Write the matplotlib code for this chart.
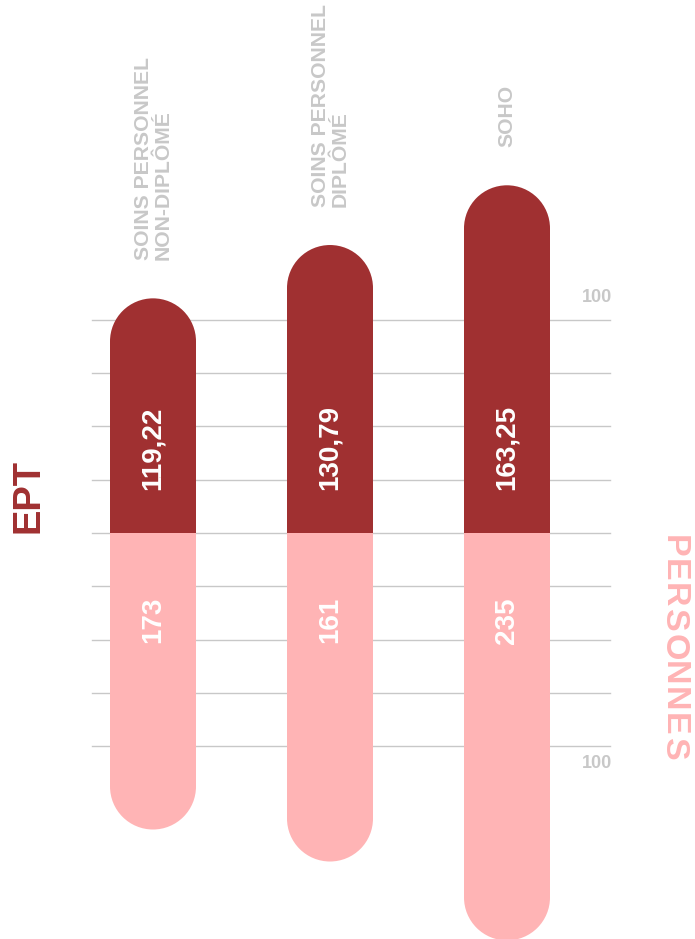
import matplotlib.pyplot as plt
from matplotlib.patches import Ellipse

plt.rcParams['font.family'] = ['Liberation Sans', 'DejaVu Sans']
plt.rcParams['font.weight'] = 'bold'

categories = ["SOINS PERSONNEL\nNON-DIPLÔMÉ", "SOINS PERSONNEL\nDIPLÔMÉ", "SOHO"]
ept_labels = ["119,22", "130,79", "163,25"]
pers_labels = ["173", "161", "235"]
# bar lengths as drawn (grid step = 25, "100" marks the 4th line)
ept_len = [110, 135, 163]
pers_len = [139, 154, 191]
grid_vals = [-100, -75, -50, -25, 0, 25, 50, 75, 100]

dark = '#a03031'
pink = '#ffb4b5'
grey = '#c8c8c8'

W, H = 695, 939
ppu = 53.33 / 25          # pixels per unit
x_step = 177              # pixels between bars
x0 = 153                  # first bar centre
zero = 533                # zero line from top
width = 86 / x_step
r = 43 / ppu              # cap radius in y units

fig = plt.figure(figsize=(W / 100, H / 100), dpi=100)
ax = fig.add_axes([0, 0, 1, 1])
ax.set_xlim(-x0 / x_step, (W - x0) / x_step)
ax.set_ylim(-(H - zero) / ppu, zero / ppu)
ax.axis('off')

for g in grid_vals:
    ax.plot([(92 - x0) / x_step, (610 - x0) / x_step], [g, g], color=grey, lw=1, zorder=1)

for i in range(len(categories)):
    # EPT bar (up, round top)
    ax.bar(i, ept_len[i] - r, width=width, bottom=0, color=dark, lw=0, zorder=2)
    ax.add_patch(Ellipse((i, ept_len[i] - r), width, 2 * r, color=dark, lw=0, zorder=2))
    # personnes bar (down, round bottom)
    ax.bar(i, -(pers_len[i] - r), width=width, bottom=0, color=pink, lw=0, zorder=2)
    ax.add_patch(Ellipse((i, -(pers_len[i] - r)), width, 2 * r, color=pink, lw=0, zorder=2))

    ax.text(i, 43 / ppu, ept_labels[i], rotation=90, ha='center', va='bottom',
            color='white', fontsize=20, zorder=3)
    ax.text(i, -64 / ppu, pers_labels[i], rotation=90, ha='center', va='top',
            color='white', fontsize=20, zorder=3)
    ax.text(i, ept_len[i] + 38 / ppu, categories[i], rotation=90, ha='center', va='bottom',
            color=grey, fontsize=15.2, linespacing=1.05, multialignment='left')

tx = (612 - x0) / x_step
ax.text(tx, 100 + 14 / ppu, "100", ha='right', va='bottom', color=grey, fontsize=13)
ax.text(tx, -100 - 9 / ppu, "100", ha='right', va='top', color=grey, fontsize=13)

ax.text((28 - x0) / x_step, 0, "EPT", rotation=90, ha='center', va='bottom',
        color=dark, fontsize=27.5)

# PERSONNES is letter-spaced: place it one letter at a time
renderer = fig.canvas.get_renderer()
ypos = H - 535
for ch in "PERSONNES":
    t = fig.text(673 / W, ypos / H, ch, rotation=270, ha='center', va='top',
                 color=pink, fontsize=24.5)
    ypos -= t.get_window_extent(renderer).height + 1.5

fig.savefig('out.png', dpi=100)
